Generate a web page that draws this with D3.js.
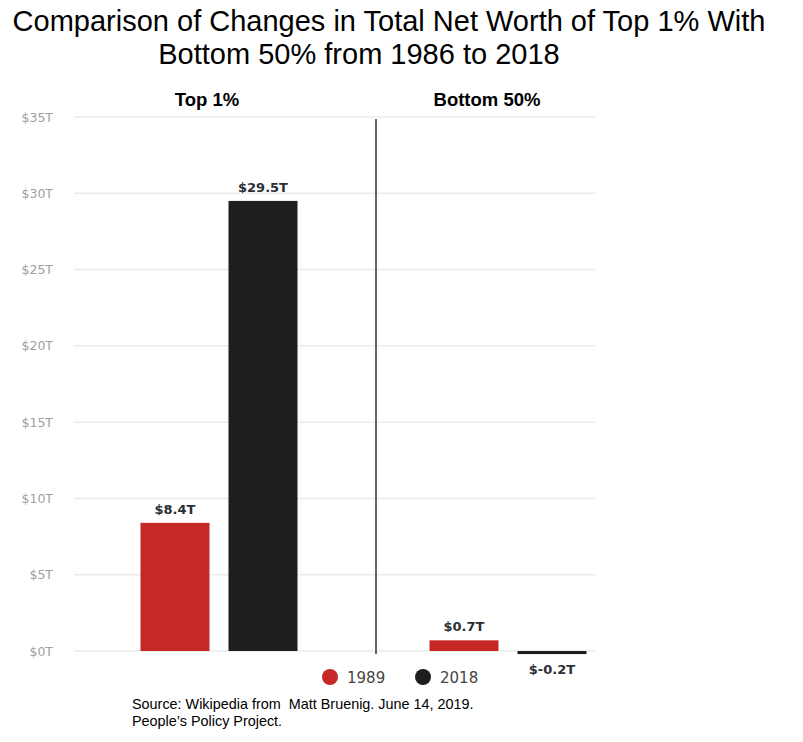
<!DOCTYPE html>
<html><head><meta charset="utf-8">
<script src="https://cdn.jsdelivr.net/npm/d3@7"></script>
<style>body{margin:0;background:#fff}</style>
</head><body>
<svg id="c" width="803" height="742"></svg>
<script>
const groups = ["Top 1%", "Bottom 50%"];
const years = ["1989", "2018"];
const values1989 = [8.4, 0.7];
const values2018 = [29.5, -0.2];
const yTicks = [0, 5, 10, 15, 20, 25, 30, 35];
const colors = {"1989": "#c62828", "2018": "#1e1e1e"};

const svg = d3.select("#c");
const y = d3.scaleLinear().domain([0, 35]).range([651, 117]);
const x0 = d3.scaleBand().domain(groups).range([74, 652]).padding(0);
const x1 = d3.scaleBand().domain(years).range([66.5, 223.5]).paddingInner(0.216).paddingOuter(0);

// gridlines
svg.append("g").selectAll("line").data(yTicks).join("line")
  .attr("x1", 74).attr("x2", 595)
  .attr("y1", d => y(d)).attr("y2", d => y(d))
  .attr("stroke", "#ebebeb").attr("stroke-width", 1.5);

// y axis
const ya = svg.append("g").attr("transform", "translate(60,0)")
  .call(d3.axisLeft(y).tickValues(yTicks).tickSize(0).tickFormat(d => "$" + d + "T"));
ya.select(".domain").remove();
ya.selectAll("text").attr("fill", "#a0a0a0").attr("font-family", "DejaVu Sans").attr("font-size", 12.5).attr("x", -7);

// divider
svg.append("line").attr("x1", 376).attr("x2", 376).attr("y1", 119).attr("y2", 654)
  .attr("stroke", "#000").attr("stroke-width", 1.2);

const data = [];
groups.forEach((g, i) => {
  data.push({g, year: "1989", v: values1989[i]});
  data.push({g, year: "2018", v: values2018[i]});
});

const bars = svg.append("g");
bars.selectAll("rect").data(data).join("rect")
  .attr("x", d => x0(d.g) + x1(d.year))
  .attr("width", x1.bandwidth())
  .attr("y", d => Math.min(y(d.v), y(0)))
  .attr("height", d => Math.max(Math.abs(y(d.v) - y(0)), 2))
  .attr("fill", d => colors[d.year]);

svg.append("g").selectAll("text").data(data).join("text")
  .attr("x", d => x0(d.g) + x1(d.year) + x1.bandwidth() / 2)
  .attr("y", d => d.v >= 0 ? y(d.v) - 9 : y(d.v) + 20)
  .attr("text-anchor", "middle")
  .attr("font-family", "DejaVu Sans").attr("font-weight", "bold").attr("font-size", 13)
  .attr("fill", "#2b2f36")
  .text(d => "$" + d3.format(".1f")(d.v).replace("−", "-") + "T");

// group labels
const glx = [207, 487];
svg.append("g").selectAll("text").data(groups).join("text")
  .attr("x", (d, i) => glx[i]).attr("y", 106)
  .attr("text-anchor", "middle")
  .attr("font-family", "Liberation Sans, Arial").attr("font-weight", "bold").attr("font-size", 18.5)
  .attr("fill", "#000").text(d => d);

// legend
const lx = [330, 423];
const lg = svg.append("g").selectAll("g").data(years).join("g")
  .attr("transform", (d, i) => `translate(${lx[i]},677)`);
lg.append("circle").attr("r", 8).attr("fill", d => colors[d]);
lg.append("text").attr("x", 17).attr("y", 6)
  .attr("font-family", "DejaVu Sans").attr("font-size", 15).attr("fill", "#444").text(d => d);

// title
const title = ["Comparison of Changes in Total Net Worth of Top 1% With", "Bottom 50% from 1986 to 2018"];
const tx = [389, 359];
svg.append("g").selectAll("text").data(title).join("text")
  .attr("x", (d, i) => tx[i]).attr("y", (d, i) => 31 + i * 33)
  .attr("text-anchor", "middle")
  .attr("font-family", "Liberation Sans, Arial").attr("font-size", 29).attr("fill", "#000").text(d => d);

// source
const src = ["Source: Wikipedia from  Matt Bruenig. June 14, 2019.", "People\u2019s Policy Project."];
svg.append("g").selectAll("text").data(src).join("text")
  .attr("x", 132).attr("y", (d, i) => 709 + i * 17)
  .attr("font-family", "Liberation Sans, Arial").attr("font-size", 14.4).attr("fill", "#000")
  .attr("xml:space", "preserve").style("white-space", "pre").text(d => d);
</script>
</body></html>
